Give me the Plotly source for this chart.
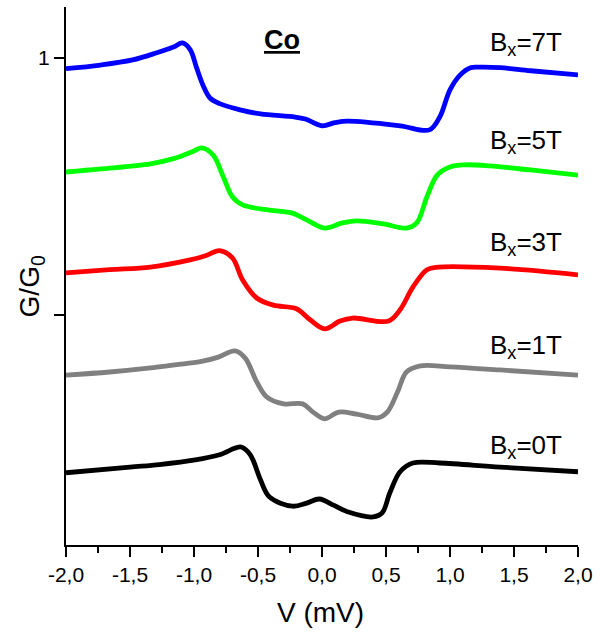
import plotly.graph_objects as go

# Bias voltage (mV) and normalised conductance G/G0 for each in-plane field
v_7T = [-2.0, -1.73, -1.48, -1.29, -1.16, -1.09, -1.03, -0.98, -0.93, -0.875, -0.80, -0.64,
        -0.48, -0.21, -0.13, 0.0, 0.10, 0.20, 0.61, 0.84, 0.92, 1.0, 1.08, 1.16, 1.23, 1.39,
        1.63, 2.0]
g_7T = [0.979, 0.986, 0.996, 1.010, 1.021, 1.029, 1.016, 0.981, 0.947, 0.922, 0.911, 0.899,
        0.891, 0.885, 0.881, 0.868, 0.874, 0.877, 0.868, 0.860, 0.885, 0.938, 0.967, 0.981,
        0.982, 0.981, 0.975, 0.967]

v_5T = [-2.0, -1.73, -1.34, -1.16, -1.00, -0.94, -0.85, -0.77, -0.70, -0.62, -0.41, -0.23,
        -0.12, 0.02, 0.16, 0.27, 0.48, 0.66, 0.74, 0.82, 0.90, 1.0, 1.12, 1.31, 1.63, 2.0]
g_5T = [0.778, 0.784, 0.794, 0.804, 0.819, 0.825, 0.811, 0.768, 0.730, 0.714, 0.704, 0.698,
        0.685, 0.669, 0.679, 0.683, 0.677, 0.669, 0.679, 0.730, 0.772, 0.788, 0.792, 0.790,
        0.782, 0.772]

v_3T = [-2.0, -1.66, -1.34, -1.03, -0.91, -0.80, -0.70, -0.62, -0.51, -0.38, -0.20, -0.09,
        0.02, 0.14, 0.24, 0.52, 0.61, 0.71, 0.82, 0.91, 1.39, 2.0]
g_3T = [0.582, 0.588, 0.593, 0.607, 0.615, 0.625, 0.611, 0.568, 0.533, 0.519, 0.512, 0.490,
        0.473, 0.488, 0.494, 0.488, 0.510, 0.554, 0.588, 0.593, 0.591, 0.578]

v_1T = [-2.0, -1.66, -1.34, -1.15, -0.95, -0.81, -0.68, -0.60, -0.51, -0.43, -0.30, -0.15,
        -0.07, 0.02, 0.13, 0.27, 0.44, 0.51, 0.59, 0.66, 0.77, 1.0, 1.39, 2.0]
g_1T = [0.383, 0.389, 0.397, 0.403, 0.409, 0.418, 0.430, 0.416, 0.370, 0.340, 0.327, 0.327,
        0.311, 0.298, 0.311, 0.307, 0.300, 0.311, 0.350, 0.389, 0.401, 0.399, 0.393, 0.383]

v_0T = [-2.0, -1.5, -1.27, -0.99, -0.80, -0.63, -0.56, -0.48, -0.41, -0.23, -0.12, -0.02,
        0.09, 0.20, 0.40, 0.47, 0.53, 0.61, 0.71, 0.92, 1.39, 2.0]
g_0T = [0.193, 0.204, 0.209, 0.218, 0.228, 0.243, 0.228, 0.179, 0.146, 0.128, 0.134, 0.142,
        0.130, 0.117, 0.107, 0.115, 0.154, 0.195, 0.212, 0.212, 0.204, 0.195]

field_labels = ["B<sub>x</sub>=7T", "B<sub>x</sub>=5T", "B<sub>x</sub>=3T",
                "B<sub>x</sub>=1T", "B<sub>x</sub>=0T"]
x_tick_vals = [-2.0, -1.5, -1.0, -0.5, 0.0, 0.5, 1.0, 1.5, 2.0]
x_tick_text = ["-2,0", "-1,5", "-1,0", "-0,5", "0,0", "0,5", "1,0", "1,5", "2,0"]
y_tick_vals = [0.5, 1.0]
y_tick_text = ["", "1"]

FONT = "Liberation Sans, Arial, sans-serif"
series = [
    (v_7T, g_7T, "#0000FF"),
    (v_5T, g_5T, "#00FF00"),
    (v_3T, g_3T, "#FF0000"),
    (v_1T, g_1T, "#808080"),
    (v_0T, g_0T, "#000000"),
]

fig = go.Figure()
for (v, g, col), name in zip(series, field_labels):
    fig.add_trace(go.Scatter(
        x=v, y=g, mode="lines", name=name,
        line=dict(color=col, width=4.8, shape="spline", smoothing=1.0),
        showlegend=False,
    ))

x_range = [-2.0, 2.0]
y_range = [0.0525, 1.099]

fig.update_layout(
    width=605, height=633,
    margin=dict(l=66, r=27, t=7, b=88),
    paper_bgcolor="white", plot_bgcolor="white",
    font=dict(family=FONT, size=21, color="black"),
    xaxis=dict(
        range=x_range, tickvals=x_tick_vals, ticktext=x_tick_text,
        ticks="outside", ticklen=10, tickwidth=1.5, tickcolor="black",
        minor=dict(ticks="outside", ticklen=6, tickwidth=1.5, dtick=0.25, tickcolor="black"),
        showline=True, linewidth=2, linecolor="black", showgrid=False, zeroline=False,
        tickfont=dict(size=21, family=FONT),
    ),
    xaxis2=dict(
        range=x_range, overlaying="x", anchor="y", side="top",
        tickvals=x_tick_vals, showticklabels=False,
        ticks="inside", ticklen=10, tickwidth=1.5, tickcolor="black",
        minor=dict(ticks="inside", ticklen=6, tickwidth=1.5, dtick=0.25, tickcolor="black"),
        showline=True, linewidth=2, linecolor="black", showgrid=False, zeroline=False,
    ),
    yaxis=dict(
        range=y_range, tickvals=y_tick_vals, ticktext=y_tick_text,
        ticks="outside", ticklen=10, tickwidth=1.5, tickcolor="black",
        showline=True, linewidth=2, linecolor="black", showgrid=False, zeroline=False,
        tickfont=dict(size=21, family=FONT),
    ),
    yaxis2=dict(
        range=y_range, overlaying="y", anchor="x", side="right",
        tickvals=y_tick_vals, showticklabels=False,
        ticks="inside", ticklen=4, tickwidth=1.5, tickcolor="black",
        showline=True, linewidth=2, linecolor="black", showgrid=False, zeroline=False,
    ),
)

# Axis titles
fig.add_annotation(
    x=0.498, y=-0.126, xref="paper", yref="paper", text="V (mV)", showarrow=False,
    font=dict(size=28, family=FONT), xanchor="center", yanchor="middle",
)
fig.add_annotation(
    x=-0.068, y=0.481, xref="paper", yref="paper", text="G/G<sub>0</sub>", showarrow=False,
    font=dict(size=28, family=FONT), textangle=-90, xanchor="center", yanchor="middle",
)

# Panel title
fig.add_annotation(
    x=0.422, y=0.938, xref="paper", yref="paper",
    text="<b><u>Co</u></b>", showarrow=False, font=dict(size=27, family=FONT),
    xanchor="center", yanchor="middle",
)

# Field labels at the right of each curve
label_y = [0.932, 0.750, 0.560, 0.369, 0.183]
for txt, yy in zip(field_labels, label_y):
    fig.add_annotation(
        x=0.973, y=yy, xref="paper", yref="paper", text=txt, showarrow=False,
        font=dict(size=26, family=FONT), xanchor="right", yanchor="middle",
    )

fig.write_html("out.html")
